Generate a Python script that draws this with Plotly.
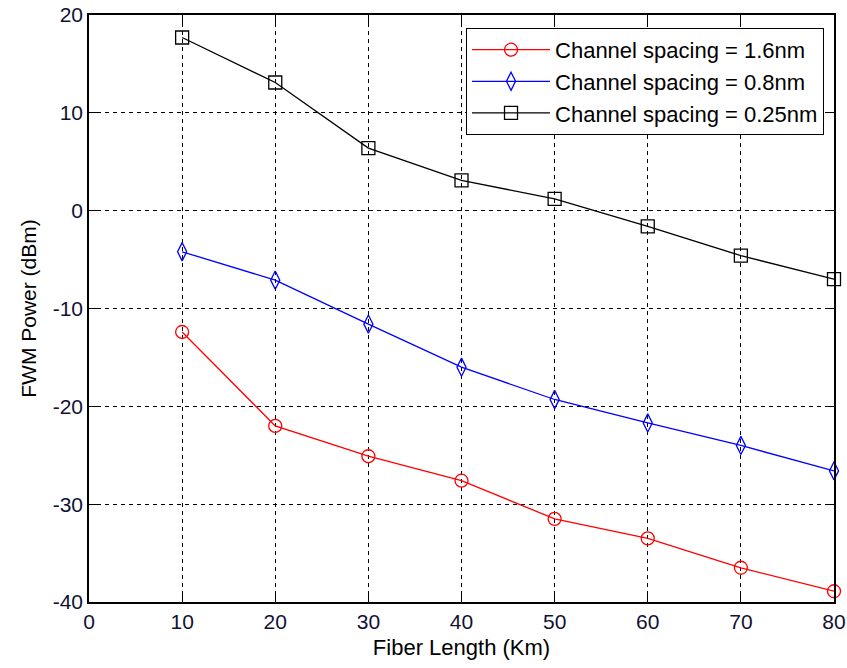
import plotly.graph_objects as go

fiber_length = [10, 20, 30, 40, 50, 60, 70, 80]
fwm_1p6 = [-12.4, -22.0, -25.1, -27.6, -31.5, -33.5, -36.5, -38.9]
fwm_0p8 = [-4.2, -7.1, -11.6, -16.0, -19.3, -21.7, -24.0, -26.6]
fwm_0p25 = [17.7, 13.1, 6.4, 3.1, 1.2, -1.6, -4.6, -7.0]

names = ["Channel spacing = 1.6nm", "Channel spacing = 0.8nm", "Channel spacing = 0.25nm"]
x_ticks = [0, 10, 20, 30, 40, 50, 60, 70, 80]
y_ticks = [-40, -30, -20, -10, 0, 10, 20]
y_tick_text = ["-40", "-30", "-20", "-10", "0", "10", "20"]

font_family = "Liberation Sans, Arial, sans-serif"

fig = go.Figure()
styles = [
    (fwm_1p6, "#ff0000", "circle-open", 13),
    (fwm_0p8, "#0000ff", "diamond-tall-open", 13),
    (fwm_0p25, "#000000", "square-open", 13),
]
for (vals, col, sym, sz), nm in zip(styles, names):
    fig.add_trace(go.Scatter(
        x=fiber_length, y=vals, name=nm, mode="lines+markers",
        line=dict(color=col, width=1.3),
        marker=dict(symbol=sym, size=sz, color=col, line=dict(color=col, width=1.3)),
        cliponaxis=False,
    ))

axis_common = dict(
    showline=True, linecolor="#000000", linewidth=1.5, mirror="ticks",
    ticks="inside", ticklen=8, tickcolor="#000000", tickwidth=1,
    showgrid=True, gridcolor="#000000", gridwidth=1, griddash="4px,4px",
    zeroline=False, automargin=False,
    tickfont=dict(family=font_family, size=21, color="#111133"),
)

fig.update_layout(
    width=847, height=668,
    margin=dict(l=89, r=13, t=15, b=66),
    paper_bgcolor="#ffffff", plot_bgcolor="#ffffff",
    font=dict(family=font_family, size=22, color="#000000"),
    showlegend=True,
    legend=dict(
        x=0.9866, xanchor="right", y=0.978, yanchor="top",
        bgcolor="#ffffff", bordercolor="#000000", borderwidth=1,
        font=dict(family=font_family, size=22, color="#000000"),
        itemwidth=78, tracegroupgap=0,
    ),
    xaxis=dict(
        range=[0, 80], tickvals=x_ticks,
        title=dict(text="Fiber Length (Km)", standoff=8, font=dict(family=font_family, size=22, color="#000000")),
        **axis_common,
    ),
    yaxis=dict(
        range=[-40, 20], tickvals=y_ticks, ticktext=y_tick_text,
        title=dict(text="FWM Power (dBm)", standoff=10, font=dict(family=font_family, size=21, color="#000000")),
        **axis_common,
    ),
)

fig.write_html("out.html")
